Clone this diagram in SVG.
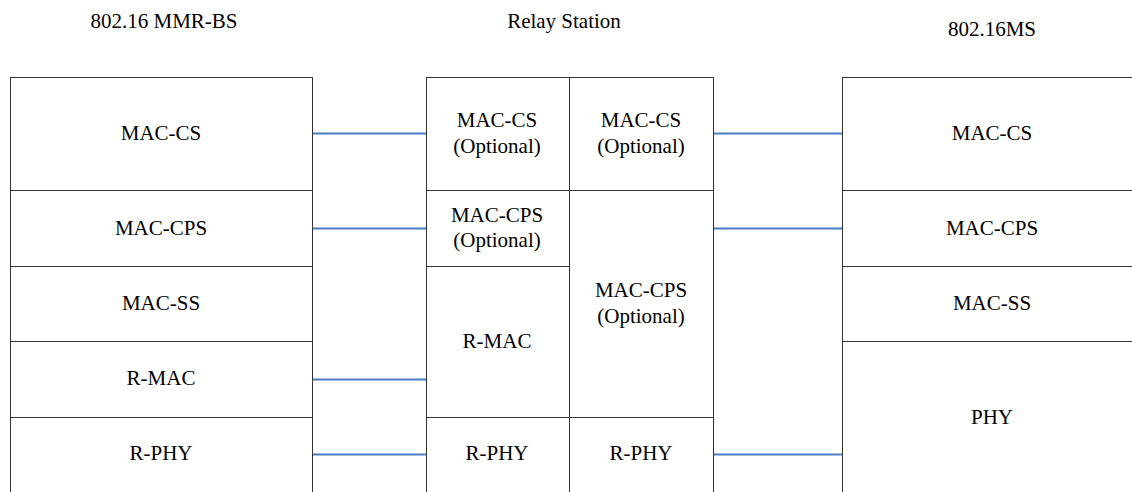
<svg xmlns="http://www.w3.org/2000/svg" width="1132" height="492" viewBox="0 0 1132 492">
<style>
.box{fill:#fff;stroke:#333;stroke-width:1}
.t{font-size:21px;fill:#000;text-anchor:middle}
.c{stroke:#4a7cc4;stroke-width:2;fill:none}
</style>
<rect width="1132" height="492" fill="#fff"/>
<g font-family="Liberation Serif, DejaVu Serif, serif">
<g id="titles">
<text class="t" x="164" y="28">802.16 MMR-BS</text>
<text class="t" x="564" y="28">Relay Station</text>
<text class="t" x="992" y="36">802.16MS</text>
</g>
<g id="bs-maccs"><rect class="box" x="10.5" y="77.5" width="302" height="113"/><text class="t" x="161" y="140">MAC-CS</text></g>
<g id="bs-maccps"><rect class="box" x="10.5" y="190.5" width="302" height="76"/><text class="t" x="161" y="235">MAC-CPS</text></g>
<g id="bs-macss"><rect class="box" x="10.5" y="266.5" width="302" height="75"/><text class="t" x="161" y="310">MAC-SS</text></g>
<g id="bs-rmac"><rect class="box" x="10.5" y="341.5" width="302" height="76"/><text class="t" x="161" y="385">R-MAC</text></g>
<g id="bs-rphy"><rect class="box" x="10.5" y="417.5" width="302" height="80"/><text class="t" x="161" y="460">R-PHY</text></g>

<g id="rs-maccs1"><rect class="box" x="426.5" y="77.5" width="143" height="113"/><text class="t" x="497" y="127">MAC-CS</text><text class="t" x="497" y="153">(Optional)</text></g>
<g id="rs-maccs2"><rect class="box" x="569.5" y="77.5" width="144" height="113"/><text class="t" x="641" y="127">MAC-CS</text><text class="t" x="641" y="153">(Optional)</text></g>
<g id="rs-maccps1"><rect class="box" x="426.5" y="190.5" width="143" height="76"/><text class="t" x="497" y="222">MAC-CPS</text><text class="t" x="497" y="247">(Optional)</text></g>
<g id="rs-rmac"><rect class="box" x="426.5" y="266.5" width="143" height="151"/><text class="t" x="497" y="348">R-MAC</text></g>
<g id="rs-maccps2"><rect class="box" x="569.5" y="190.5" width="144" height="227"/><text class="t" x="641" y="297">MAC-CPS</text><text class="t" x="641" y="323">(Optional)</text></g>
<g id="rs-rphy1"><rect class="box" x="426.5" y="417.5" width="143" height="80"/><text class="t" x="497" y="460">R-PHY</text></g>
<g id="rs-rphy2"><rect class="box" x="569.5" y="417.5" width="144" height="80"/><text class="t" x="641" y="460">R-PHY</text></g>

<g id="ms-maccs"><rect class="box" x="842.5" y="77.5" width="300" height="113"/><text class="t" x="992" y="140">MAC-CS</text></g>
<g id="ms-maccps"><rect class="box" x="842.5" y="190.5" width="300" height="76"/><text class="t" x="992" y="235">MAC-CPS</text></g>
<g id="ms-macss"><rect class="box" x="842.5" y="266.5" width="300" height="75"/><text class="t" x="992" y="310">MAC-SS</text></g>
<g id="ms-phy"><rect class="box" x="842.5" y="341.5" width="300" height="160"/><text class="t" x="992" y="424">PHY</text></g>
</g>
<g id="connectors">
<line class="c" x1="313" y1="133.5" x2="426" y2="133.5"/>
<line class="c" x1="313" y1="228.5" x2="426" y2="228.5"/>
<line class="c" x1="313" y1="379.5" x2="426" y2="379.5"/>
<line class="c" x1="313" y1="454.5" x2="426" y2="454.5"/>
<line class="c" x1="714" y1="133.5" x2="842" y2="133.5"/>
<line class="c" x1="714" y1="228.5" x2="842" y2="228.5"/>
<line class="c" x1="714" y1="454.5" x2="842" y2="454.5"/>
</g>
</svg>
